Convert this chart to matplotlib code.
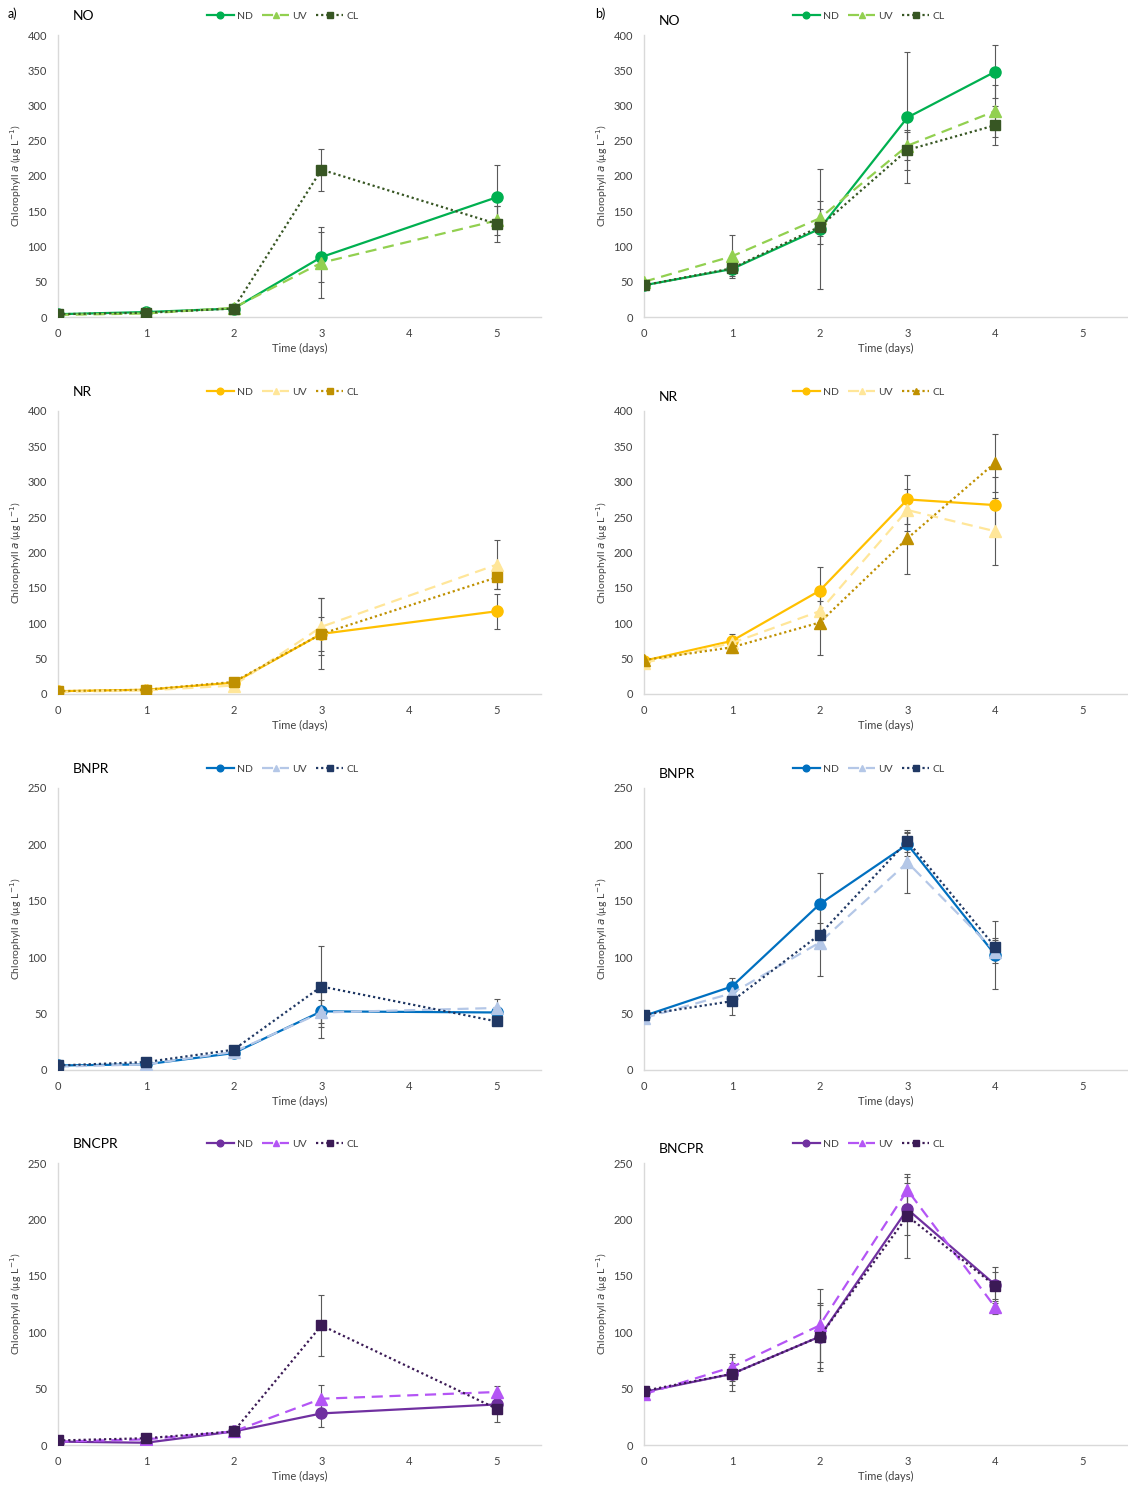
import matplotlib.pyplot as plt
import numpy as np

plt.rcParams['font.family'] = ['Lato', 'DejaVu Sans']

# days sampled
days_a = [0, 1, 2, 3, 5]
days_b = [0, 1, 2, 3, 4]
series = ['ND', 'UV', 'CL']

# ---- NO ----
no_a_nd = [4, 7, 12, 85, 170]
no_a_uv = [3, 5, 13, 77, 137]
no_a_cl = [4, 6, 12, 209, 132]
no_a_nd_err = [1, 1, 2, 35, 45]
no_a_uv_err = [1, 1, 2, 50, 20]
no_a_cl_err = [1, 1, 2, 30, 25]

no_b_nd = [45, 68, 125, 283, 348]
no_b_uv = [50, 86, 140, 243, 292]
no_b_cl = [45, 69, 128, 237, 272]
no_b_nd_err = [3, 10, 85, 93, 38]
no_b_uv_err = [3, 30, 25, 20, 37]
no_b_cl_err = [3, 8, 25, 28, 28]

# ---- NR ----
nr_a_nd = [4, 6, 16, 85, 117]
nr_a_uv = [3, 5, 12, 95, 183]
nr_a_cl = [4, 6, 17, 85, 165]
nr_a_nd_err = [1, 1, 2, 24, 25]
nr_a_uv_err = [1, 1, 2, 40, 35]
nr_a_cl_err = [1, 1, 2, 50, 17]

nr_b_nd = [47, 75, 146, 275, 267]
nr_b_uv = [44, 72, 117, 260, 230]
nr_b_cl = [48, 66, 101, 220, 327]
nr_b_nd_err = [3, 10, 33, 35, 40]
nr_b_uv_err = [3, 8, 15, 30, 47]
nr_b_cl_err = [3, 8, 46, 50, 41]

# ---- BNPR ----
bnpr_a_nd = [4, 5, 15, 52, 51]
bnpr_a_uv = [3, 5, 16, 51, 55]
bnpr_a_cl = [4, 7, 18, 74, 43]
bnpr_a_nd_err = [1, 1, 2, 10, 5]
bnpr_a_uv_err = [1, 1, 2, 23, 8]
bnpr_a_cl_err = [1, 1, 2, 36, 3]

bnpr_b_nd = [48, 74, 147, 200, 102]
bnpr_b_uv = [46, 68, 113, 184, 105]
bnpr_b_cl = [49, 61, 120, 203, 109]
bnpr_b_nd_err = [2, 8, 28, 10, 30]
bnpr_b_uv_err = [2, 6, 30, 27, 10]
bnpr_b_cl_err = [2, 12, 10, 10, 8]

# ---- BNCPR ----
bncpr_a_nd = [3, 2, 12, 28, 36]
bncpr_a_uv = [3, 5, 12, 41, 47]
bncpr_a_cl = [4, 6, 12, 106, 32]
bncpr_a_nd_err = [1, 1, 2, 12, 5]
bncpr_a_uv_err = [1, 1, 2, 12, 5]
bncpr_a_cl_err = [1, 1, 2, 27, 12]

bncpr_b_nd = [47, 63, 96, 209, 142]
bncpr_b_uv = [45, 69, 106, 226, 122]
bncpr_b_cl = [48, 63, 96, 203, 141]
bncpr_b_nd_err = [3, 10, 30, 23, 16]
bncpr_b_uv_err = [3, 12, 32, 12, 6]
bncpr_b_cl_err = [3, 15, 28, 37, 12]

colors = {
    'NO': ['#00B050', '#92D050', '#375623'],
    'NR': ['#FFC000', '#FFE699', '#BF9000'],
    'BNPR': ['#0070C0', '#B4C7E7', '#203864'],
    'BNCPR': ['#7030A0', '#B455F5', '#3B1A55'],
}

W, H = 1128, 1491
fig = plt.figure(figsize=(W / 100, H / 100), dpi=100)

rows = [(35, 317), (411, 694), (788, 1070), (1163, 1445)]
cols = [58, 644]
ax_w = 483

panels = [
    ('NO', 400, [(days_a, no_a_nd, no_a_uv, no_a_cl, no_a_nd_err, no_a_uv_err, no_a_cl_err),
                 (days_b, no_b_nd, no_b_uv, no_b_cl, no_b_nd_err, no_b_uv_err, no_b_cl_err)]),
    ('NR', 400, [(days_a, nr_a_nd, nr_a_uv, nr_a_cl, nr_a_nd_err, nr_a_uv_err, nr_a_cl_err),
                 (days_b, nr_b_nd, nr_b_uv, nr_b_cl, nr_b_nd_err, nr_b_uv_err, nr_b_cl_err)]),
    ('BNPR', 250, [(days_a, bnpr_a_nd, bnpr_a_uv, bnpr_a_cl, bnpr_a_nd_err, bnpr_a_uv_err, bnpr_a_cl_err),
                   (days_b, bnpr_b_nd, bnpr_b_uv, bnpr_b_cl, bnpr_b_nd_err, bnpr_b_uv_err, bnpr_b_cl_err)]),
    ('BNCPR', 250, [(days_a, bncpr_a_nd, bncpr_a_uv, bncpr_a_cl, bncpr_a_nd_err, bncpr_a_uv_err, bncpr_a_cl_err),
                    (days_b, bncpr_b_nd, bncpr_b_uv, bncpr_b_cl, bncpr_b_nd_err, bncpr_b_uv_err, bncpr_b_cl_err)]),
]

styles = ['-', (0, (5, 3)), (0, (1, 1.3))]
markers = ['o', '^', 's']

for r, (name, ymax, sides) in enumerate(panels):
    top, bot = rows[r]
    for c, data in enumerate(sides):
        x0 = cols[c]
        ax = fig.add_axes([x0 / W, (H - bot) / H, ax_w / W, (bot - top) / H])
        d, nd, uv, cl, e1, e2, e3 = data
        mk = list(markers)
        if name == 'NR' and c == 1:
            mk[2] = '^'
        handles = []
        for i, (y, e) in enumerate([(nd, e1), (uv, e2), (cl, e3)]):
            ax.errorbar(d, y, yerr=e, fmt='none', ecolor='#595959', elinewidth=0.8,
                        capsize=2, capthick=0.8, zorder=2)
            h, = ax.plot(d, y, linestyle=styles[i], marker=mk[i], color=colors[name][i],
                         lw=1.6, ms=8 if mk[i] != 's' else 7.5, zorder=3 + i, label=series[i])
            handles.append(h)
        ax.set_xlim(0, 5.5)
        ax.set_ylim(0, ymax)
        ax.set_xticks(range(6))
        ax.set_yticks(np.arange(0, ymax + 1, 50))
        for s in ['top', 'right']:
            ax.spines[s].set_visible(False)
        for s in ['left', 'bottom']:
            ax.spines[s].set_color('#D9D9D9')
            ax.spines[s].set_linewidth(1)
        ax.tick_params(length=0, labelsize=8, colors='#404040', pad=8)
        ax.set_xlabel('Time (days)', fontsize=8, color='#404040')
        ax.set_ylabel('Chlorophyll $\\it{a}$ (µg L$^{-1}$)', fontsize=7.5, color='#404040')
        ax.yaxis.set_label_coords(-34 / ax_w, 0.5)
        ax.xaxis.set_label_coords(0.5, -26 / (bot - top))
        ty = 1.067 if c == 0 else 1.05
        ax.text(0.03, ty, name, transform=ax.transAxes, fontsize=10, va='center', ha='left')
        leg = ax.legend(handles=handles, loc='center', bbox_to_anchor=(0.465, 1.067),
                        ncol=3, frameon=False, fontsize=7.5, handlelength=2.6,
                        columnspacing=0.9, handletextpad=0.3, markerscale=0.6)
        for t in leg.get_texts():
            t.set_color('#404040')

fig.text(8 / W, 1 - 14 / H, 'a)', fontsize=9, va='center')
fig.text(595 / W, 1 - 14 / H, 'b)', fontsize=9, va='center')

plt.savefig('out.png', dpi=100)
